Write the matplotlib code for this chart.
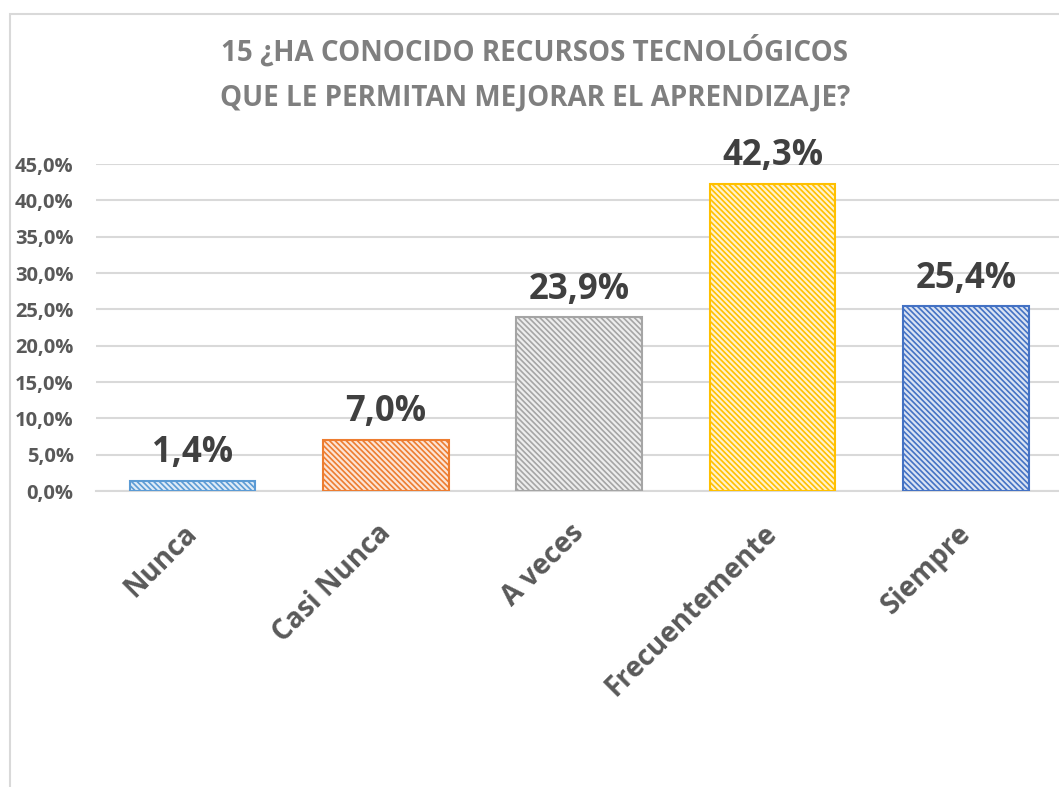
import matplotlib.pyplot as plt
import matplotlib.patches as mpatches
from matplotlib.ticker import FuncFormatter
from matplotlib.transforms import ScaledTranslation

####################################################
# Data
####################################################
categories = ['Nunca', 'Casi Nunca', 'A veces', 'Frecuentemente', 'Siempre']
values = [0.014, 0.070, 0.239, 0.423, 0.254]
labels = ['1,4%', '7,0%', '23,9%', '42,3%', '25,4%']

edge_colors = ['#5b9bd5', '#ed7d31', '#a5a5a5', '#ffc000', '#4472c4']
fill_colors = ['#deebf7', '#fce4d6', '#ededed', '#fff2cc', '#dae3f3']

title = '15 ¿HA CONOCIDO RECURSOS TECNOLÓGICOS\nQUE LE PERMITAN MEJORAR EL APRENDIZAJE?'

####################################################
# Plot
####################################################
plt.rcParams['font.family'] = ['Open Sans', 'DejaVu Sans']
plt.rcParams['hatch.linewidth'] = 1.2

fig = plt.figure(figsize=(10.59, 7.87), dpi=100)

# chart frame
fig.patches.append(mpatches.Rectangle((0.0094, -0.05), 1.1, 0.982 + 0.05,
                                      transform=fig.transFigure, fill=False,
                                      edgecolor='#d9d9d9', linewidth=1.5))

ax = fig.add_axes([0.0905, 0.376, 0.913, 0.4156])

x = range(len(categories))
for i in x:
    ax.bar(i, values[i], width=0.65, color=fill_colors[i], edgecolor=edge_colors[i],
           hatch='\\\\\\\\\\\\', linewidth=1.5, zorder=3)
    ax.annotate(labels[i], (i, values[i]), xytext=(0, 7), textcoords='offset points',
                ha='center', va='bottom', fontsize=25, fontweight='bold', color='#404040')

ax.set_xlim(-0.5, len(categories) - 0.5)
ax.set_ylim(0, 0.45)
ax.set_yticks([i * 0.05 for i in range(10)])
ax.yaxis.set_major_formatter(FuncFormatter(lambda v, p: f'{v * 100:.1f}%'.replace('.', ',')))
ax.grid(axis='y', color='#d9d9d9', linewidth=1.5, zorder=0)

for s in ax.spines.values():
    s.set_visible(False)
ax.spines['bottom'].set_visible(True)
ax.spines['bottom'].set_color('#d9d9d9')
ax.spines['bottom'].set_linewidth(1.5)

ax.tick_params(axis='both', length=0)
ax.tick_params(axis='y', labelsize=14.5, labelcolor='#595959', pad=16)
ax.set_yticklabels(ax.get_yticklabels(), fontweight='bold')
ax.set_xticks(list(x))
ax.set_xticklabels(categories, rotation=45, ha='right', rotation_mode='anchor',
                   fontsize=20, fontweight='bold', color='#595959')
ax.tick_params(axis='x', pad=22)
shift = ScaledTranslation(-7 / 72, 2 / 72, fig.dpi_scale_trans)
for lbl in ax.get_xticklabels():
    lbl.set_transform(lbl.get_transform() + shift)

fig.text(0.505, 0.906, title, ha='center', va='center', fontsize=20,
         fontweight='bold', color='#7f7f7f', linespacing=1.75)

fig.savefig('out.png', dpi=100)
